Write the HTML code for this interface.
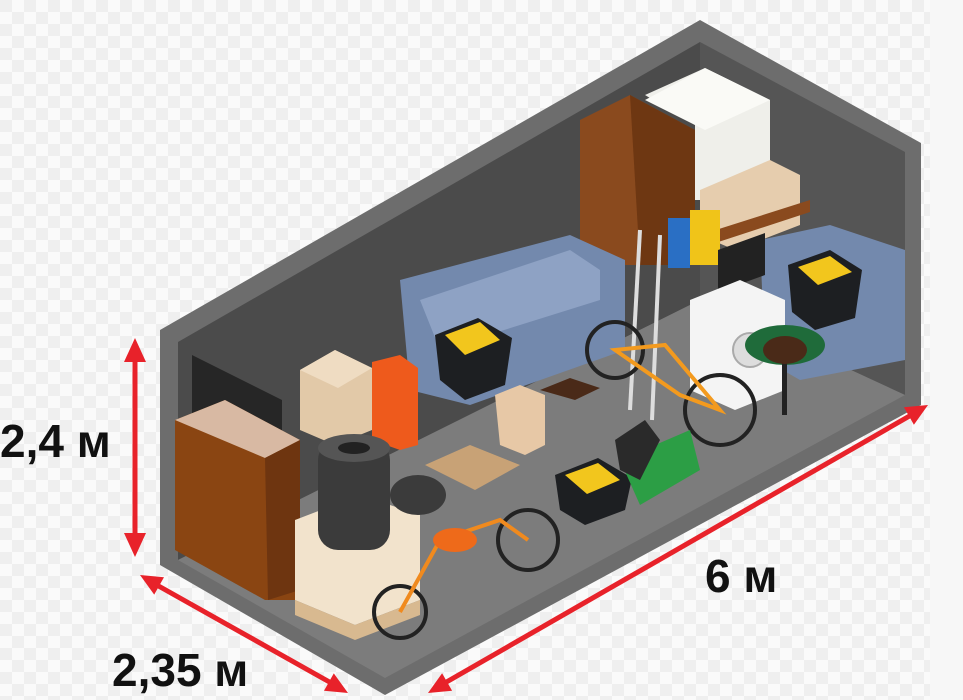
<!DOCTYPE html>
<html><head><meta charset="utf-8"><style>
html,body{margin:0;padding:0;width:963px;height:700px;overflow:hidden;background:#fff}
svg{display:block}
text{font-family:"Liberation Sans",sans-serif;font-weight:bold;fill:#111}
</style></head><body>
<svg width="963" height="700" viewBox="0 0 963 700">
<defs>
<pattern id="chk" width="24" height="24" patternUnits="userSpaceOnUse">
<rect width="24" height="24" fill="#fafafa"/><rect width="12" height="12" fill="#efefef"/><rect x="12" y="12" width="12" height="12" fill="#efefef"/>
</pattern>
</defs>
<rect width="963" height="700" fill="url(#chk)"/>
<rect x="930" y="0" width="33" height="700" fill="#f7f7f7"/>
<!-- container shell -->
<polygon points="160,330 700,20 921,143 921,405 385,695 160,565" fill="#6d6d6d"/>
<polygon points="178,342 700,42 700,300 178,560" fill="#4b4b4b"/>
<polygon points="700,42 905,152 905,395 700,300" fill="#555"/>
<polygon points="178,560 700,300 905,395 385,678" fill="#7c7c7c"/>
<!-- wardrobe -->
<polygon points="580,120 630,95 695,130 695,265 580,265" fill="#8a4a1e"/>
<polygon points="630,95 695,130 695,265 640,265" fill="#6e3712"/>
<!-- fridge -->
<polygon points="645,95 705,68 770,100 770,200 695,200 695,125" fill="#efefea"/>
<polygon points="705,68 770,100 705,130 645,100" fill="#fafaf6"/>
<!-- boxes on shelf -->
<polygon points="700,190 770,160 800,175 800,225 735,250 700,235" fill="#e6cdae"/>
<polygon points="700,235 810,200 810,212 700,248" fill="#8a4a1e"/>
<rect x="668" y="218" width="22" height="50" fill="#2a6fc4"/>
<rect x="690" y="210" width="30" height="55" fill="#f0c419"/>
<!-- sofas -->
<polygon points="400,280 570,235 625,260 625,350 470,405 410,390" fill="#7389ad"/>
<polygon points="420,300 570,250 600,270 600,300 440,350" fill="#8ea2c4"/>
<polygon points="760,240 830,225 905,250 905,360 800,380 765,360" fill="#7389ad"/>
<!-- crates -->
<polygon points="435,335 478,318 512,338 505,385 465,400 440,380" fill="#1d1f22"/>
<polygon points="445,335 480,322 500,340 465,355" fill="#f2c61d"/>
<polygon points="788,265 830,250 862,270 855,318 815,330 792,312" fill="#1d1f22"/>
<polygon points="798,267 830,256 852,272 818,285" fill="#f2c61d"/>
<polygon points="555,475 598,458 632,478 625,510 585,525 560,510" fill="#1d1f22"/>
<polygon points="565,475 598,463 620,480 587,494" fill="#f2c61d"/>
<!-- monitor & washing machine -->
<polygon points="718,250 765,233 765,275 718,292" fill="#222"/>
<polygon points="690,300 740,280 785,300 785,390 735,410 690,390" fill="#f4f4f4"/>
<circle cx="750" cy="350" r="17" fill="#ddd" stroke="#aaa" stroke-width="2"/>
<!-- table & chairs -->
<ellipse cx="785" cy="345" rx="40" ry="20" fill="#1f6b3a"/>
<rect x="782" y="350" width="5" height="65" fill="#222"/>
<ellipse cx="785" cy="350" rx="22" ry="14" fill="#4a2a18"/>
<polygon points="495,395 520,385 545,395 545,445 525,455 500,445" fill="#e7c8a6"/>
<polygon points="540,390 570,378 600,388 575,400" fill="#4a2a18"/>
<!-- skis -->
<line x1="640" y1="230" x2="630" y2="410" stroke="#ddd" stroke-width="4"/>
<line x1="660" y1="235" x2="652" y2="420" stroke="#ddd" stroke-width="4"/>
<!-- bicycle -->
<circle cx="615" cy="350" r="28" fill="none" stroke="#222" stroke-width="4"/>
<circle cx="720" cy="410" r="35" fill="none" stroke="#222" stroke-width="4"/>
<path d="M615,350 L665,345 L720,410 L680,395 Z" fill="none" stroke="#f39a1e" stroke-width="4"/>
<!-- lawnmower -->
<polygon points="620,460 690,430 700,470 640,505" fill="#2c9e45"/>
<polygon points="615,440 645,420 660,440 640,480 620,470" fill="#2a2a2a"/>
<!-- TV + dresser -->
<polygon points="192,355 282,400 282,460 192,420" fill="#262626"/>
<polygon points="175,420 225,400 300,440 300,600 265,600 175,550" fill="#8a4512"/>
<polygon points="175,420 225,400 300,440 265,458" fill="#d8b9a3"/>
<polygon points="265,458 300,440 300,590 268,600" fill="#6e3510"/>
<!-- boxes left -->
<polygon points="300,370 335,350 372,368 372,430 335,445 300,430" fill="#e2c9a8"/>
<polygon points="300,370 335,350 372,368 338,388" fill="#efdcc2"/>
<polygon points="372,362 400,355 418,368 418,445 400,450 372,440" fill="#ee5a1c"/>
<!-- mattress -->
<polygon points="295,520 360,495 420,515 420,600 355,625 295,600" fill="#f2e3cc"/>
<polygon points="295,600 355,625 420,600 420,615 355,640 295,615" fill="#d8b990"/>
<!-- tires -->
<rect x="318" y="440" width="72" height="110" rx="20" fill="#3b3b3b"/>
<ellipse cx="354" cy="448" rx="36" ry="14" fill="#555"/>
<ellipse cx="354" cy="448" rx="16" ry="6" fill="#222"/>
<ellipse cx="418" cy="495" rx="28" ry="20" fill="#3b3b3b"/>
<!-- pallet -->
<polygon points="425,465 470,445 520,465 475,490" fill="#c8a276"/>
<!-- motorcycle -->
<circle cx="400" cy="612" r="26" fill="none" stroke="#222" stroke-width="4"/>
<circle cx="528" cy="540" r="30" fill="none" stroke="#222" stroke-width="4"/>
<path d="M400,612 L440,540 L500,520 L528,540" fill="none" stroke="#f08a1e" stroke-width="4"/>
<ellipse cx="455" cy="540" rx="22" ry="12" fill="#ee6a1a"/>
<!-- arrows -->
<g fill="#e8222a" stroke="none">
<line x1="135" y1="355" x2="135" y2="540" stroke="#e8222a" stroke-width="5"/>
<polygon points="135,338 124,362 146,362"/>
<polygon points="135,557 124,533 146,533"/>
<line x1="155" y1="584" x2="333" y2="684" stroke="#e8222a" stroke-width="5"/>
<polygon points="140,575 154.2,594.6 164,577.2"/>
<polygon points="348,693 324,690.8 333.8,673.4"/>
<line x1="443" y1="684" x2="913" y2="414" stroke="#e8222a" stroke-width="5"/>
<polygon points="428,693 452.1,690.7 442.1,673.3"/>
<polygon points="928,405 913.9,424.7 903.9,407.3"/>
</g>
<!-- labels -->
<text x="0" y="457" font-size="46">2,4 м</text>
<text x="112" y="686" font-size="46">2,35 м</text>
<text x="705" y="592" font-size="46">6 м</text>
</svg>
</body></html>
